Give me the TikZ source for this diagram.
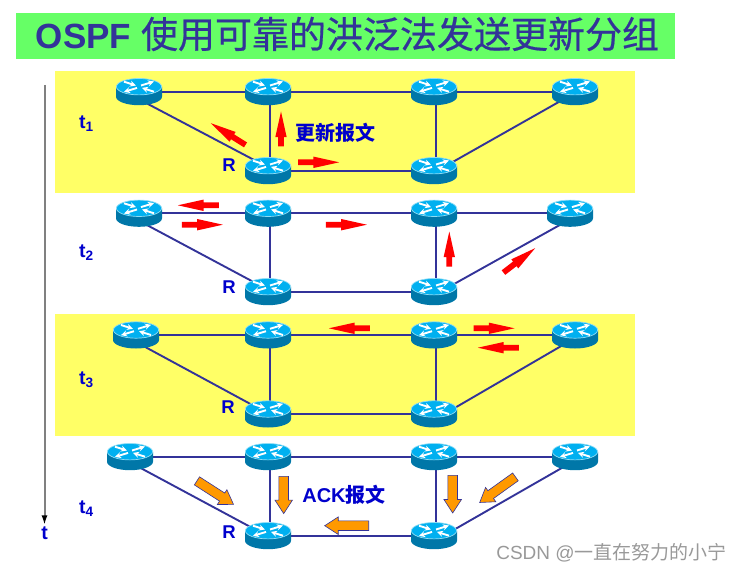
\documentclass[tikz,border=0pt]{standalone}
\usepackage{fontspec}
\setmainfont{Liberation Sans}
\setsansfont{Liberation Sans}
\newfontfamily\cjk{Noto Sans CJK SC}
\newfontfamily\cjkhead[FakeBold=0.5]{Noto Sans CJK SC}
\usetikzlibrary{arrows.meta,shapes.arrows}
\definecolor{ospfink}{HTML}{333399}
\definecolor{ospfblue}{HTML}{0000CC}
\definecolor{ospfgreen}{HTML}{66FF66}
\definecolor{ospfyellow}{HTML}{FFFF66}
\definecolor{ospfred}{HTML}{FF0000}
\definecolor{ospforange}{HTML}{FF9900}
\definecolor{routertop}{HTML}{00B0F0}
\definecolor{routerrim}{HTML}{8FDDF5}
\definecolor{routerbody}{HTML}{0077A8}
\pgfdeclarelayer{background}
\pgfdeclarelayer{links}
\pgfsetlayers{background,links,main}
\tikzset{
  band/.style={fill=ospfyellow, draw=none},
  link/.style={draw=ospfink, line width=1.9pt},
  timeline/.style={draw=gray, line width=2pt, -{Latex[length=10pt,width=6pt,black]}},
  timelabel/.style={font=\bfseries\fontsize{19.5}{19.5}\selectfont, text=ospfblue, inner sep=1pt},
  msglabel/.style={font=\bfseries\fontsize{20}{20}\selectfont, text=ospfblue, inner sep=0pt},
  routerlabel/.style={font=\bfseries\fontsize{18.5}{18.5}\selectfont, text=ospfblue, inner sep=0pt},
  cross/.style={draw=white, line width=1.9pt, -{Stealth[length=6pt,width=6pt]}},
  router/.style={rectangle, minimum width=46pt, minimum height=27pt, inner sep=0pt,
    path picture={
      \begin{scope}[shift={(path picture bounding box.center)}]
        \fill[routerbody] (-23,-5) -- (-23,5) arc[x radius=23, y radius=8.5, start angle=180, end angle=0] -- (23,-5) -- cycle;
        \fill[routertop, draw=routerrim, line width=0.7pt] (0,-5) ellipse[x radius=22.6, y radius=8.2];
        \draw[cross] (2,-6.2) -- (15,-10.2);
        \draw[cross] (-2,-3.8) -- (-15,0.2);
        \draw[cross] (-15,-10) -- (-3,-6.2);
        \draw[cross] (15,0) -- (3,-3.8);
      \end{scope}
    }},
  redflood/.style={single arrow, fill=ospfred, draw=none, inner sep=2.7pt,
    minimum width=11pt, single arrow head extend=2.8pt,
    single arrow tip angle=25, single arrow head indent=0pt, anchor=tail},
  ackflood/.style={single arrow, fill=ospforange, draw=ospfink, line width=0.6pt, inner sep=4.5pt,
    minimum width=17pt, single arrow head extend=4pt,
    single arrow tip angle=66, single arrow head indent=0pt, anchor=tail}
}
\begin{document}
\begin{tikzpicture}[x=1pt, y=-1pt]
  \useasboundingbox (0,0) rectangle (741,572);
  \begin{pgfonlayer}{background}
    \fill[ospfgreen] (16,13) rectangle (675,59);
    \fill[band] (55,71) rectangle (635,193.5);
    \fill[band] (55,314) rectangle (635,436);
  \end{pgfonlayer}
  \node[font=\bfseries\fontsize{35}{35}\selectfont, text=ospfink, inner sep=0pt] (title) at (347.5,34) {OSPF {\mdseries\cjkhead\fontsize{37}{37}\selectfont 使用可靠的洪泛法发送更新分组}};
  % routers of each time step
  \foreach \n/\x/\y in {t1a/139/91.7, t1b/268/91.7, t1c/434/91.7, t1d/575/91.7, t1r/268/170.7, t1s/434/170.7,
      t2a/139/213.3, t2b/268/213.3, t2c/434/213.3, t2d/570/213.3, t2r/268/291.7, t2s/434/291.7,
      t3a/136/335, t3b/268/335, t3c/434/335, t3d/575/335, t3r/268/414, t3s/434/414,
      t4a/130/456.7, t4b/268/456.7, t4c/434/456.7, t4d/575/456.7, t4r/268/535.7, t4s/434/535.7}
    \node[router] (\n) at (\x,\y) {};
  % links
  \begin{pgfonlayer}{links}
    \foreach \t/\la/\lb/\ra/\rb in {t1/-7.6/3.4/-1.9/-1.1, t2/-7.5/2/-3.5/-6, t3/-7/0.5/-6/-3, t4/-5.6/-0.7/-5.5/-3.7}{
      \draw[link] (\t a) -- (\t b);
      \draw[link] (\t b) -- (\t c);
      \draw[link] (\t c) -- (\t d);
      \draw[link] (\t r) -- (\t s);
      \draw[link] ([xshift=2pt]\t b.center) -- ([xshift=2pt]\t r.center);
      \draw[link] ([xshift=2pt]\t c.center) -- ([xshift=2pt]\t s.center);
      \draw[link] ([yshift=\la pt]\t a.center) -- ([yshift=\lb pt]\t r.center);
      \draw[link] ([yshift=\ra pt]\t s.center) -- ([yshift=\rb pt]\t d.center);
    }
  \end{pgfonlayer}
  % time axis
  \coordinate (tstart) at (44.5,85);
  \node[timelabel] (tend) at (44.5,533) {t};
  \draw[timeline] (tstart) -- (tend);
  \node[timelabel] (lt1) at (86.5,124) {t\textsubscript{1}};
  \node[timelabel] (lt2) at (86.5,253) {t\textsubscript{2}};
  \node[timelabel] (lt3) at (86.5,380) {t\textsubscript{3}};
  \node[timelabel] (lt4) at (86.5,509) {t\textsubscript{4}};
  \node[routerlabel] (r1) at (229,165) {R};
  \node[routerlabel] (r2) at (229,287) {R};
  \node[routerlabel] (r3) at (228,407) {R};
  \node[routerlabel] (r4) at (229,532) {R};
  \node[msglabel] (update) at (335,133) {\cjk 更新报文};
  \node[msglabel] (ack) at (344,495) {ACK{\cjk 报文}};
  % flooding arrows
  \foreach \n/\x/\y/\a/\l in {fa/245.7/145/148/41, fb/281/146.7/90/35, fc/298/162.3/0/41,
      fd/219/205.3/180/41, fe/181.7/224.7/0/41, ff/325.7/224.7/0/41, fg/449.3/266.7/90/35, fh/503.3/272.7/37.6/40,
      fi/370/328.3/180/41, fj/473.3/328.3/0/41, fk/519/347.7/180/41}
    \node[redflood, minimum height=\l pt, rotate=\a] (\n) at (\x,\y) {};
  \foreach \n/\x/\y/\a/\l in {aa/196.7/480.7/-32.8/43.5, ab/283.7/476/-90/37.3, ac/369/525.7/180/44,
      ad/452.7/475/-90/37.7, ae/515.7/476.7/215.6/44}
    \node[ackflood, minimum height=\l pt, rotate=\a] (\n) at (\x,\y) {};
  \node[font=\fontsize{19}{19}\selectfont, text=gray!80, inner sep=0pt] (mark) at (611.5,553) {CSDN @{\cjk 一直在努力的小宁}};
\end{tikzpicture}
\end{document}
